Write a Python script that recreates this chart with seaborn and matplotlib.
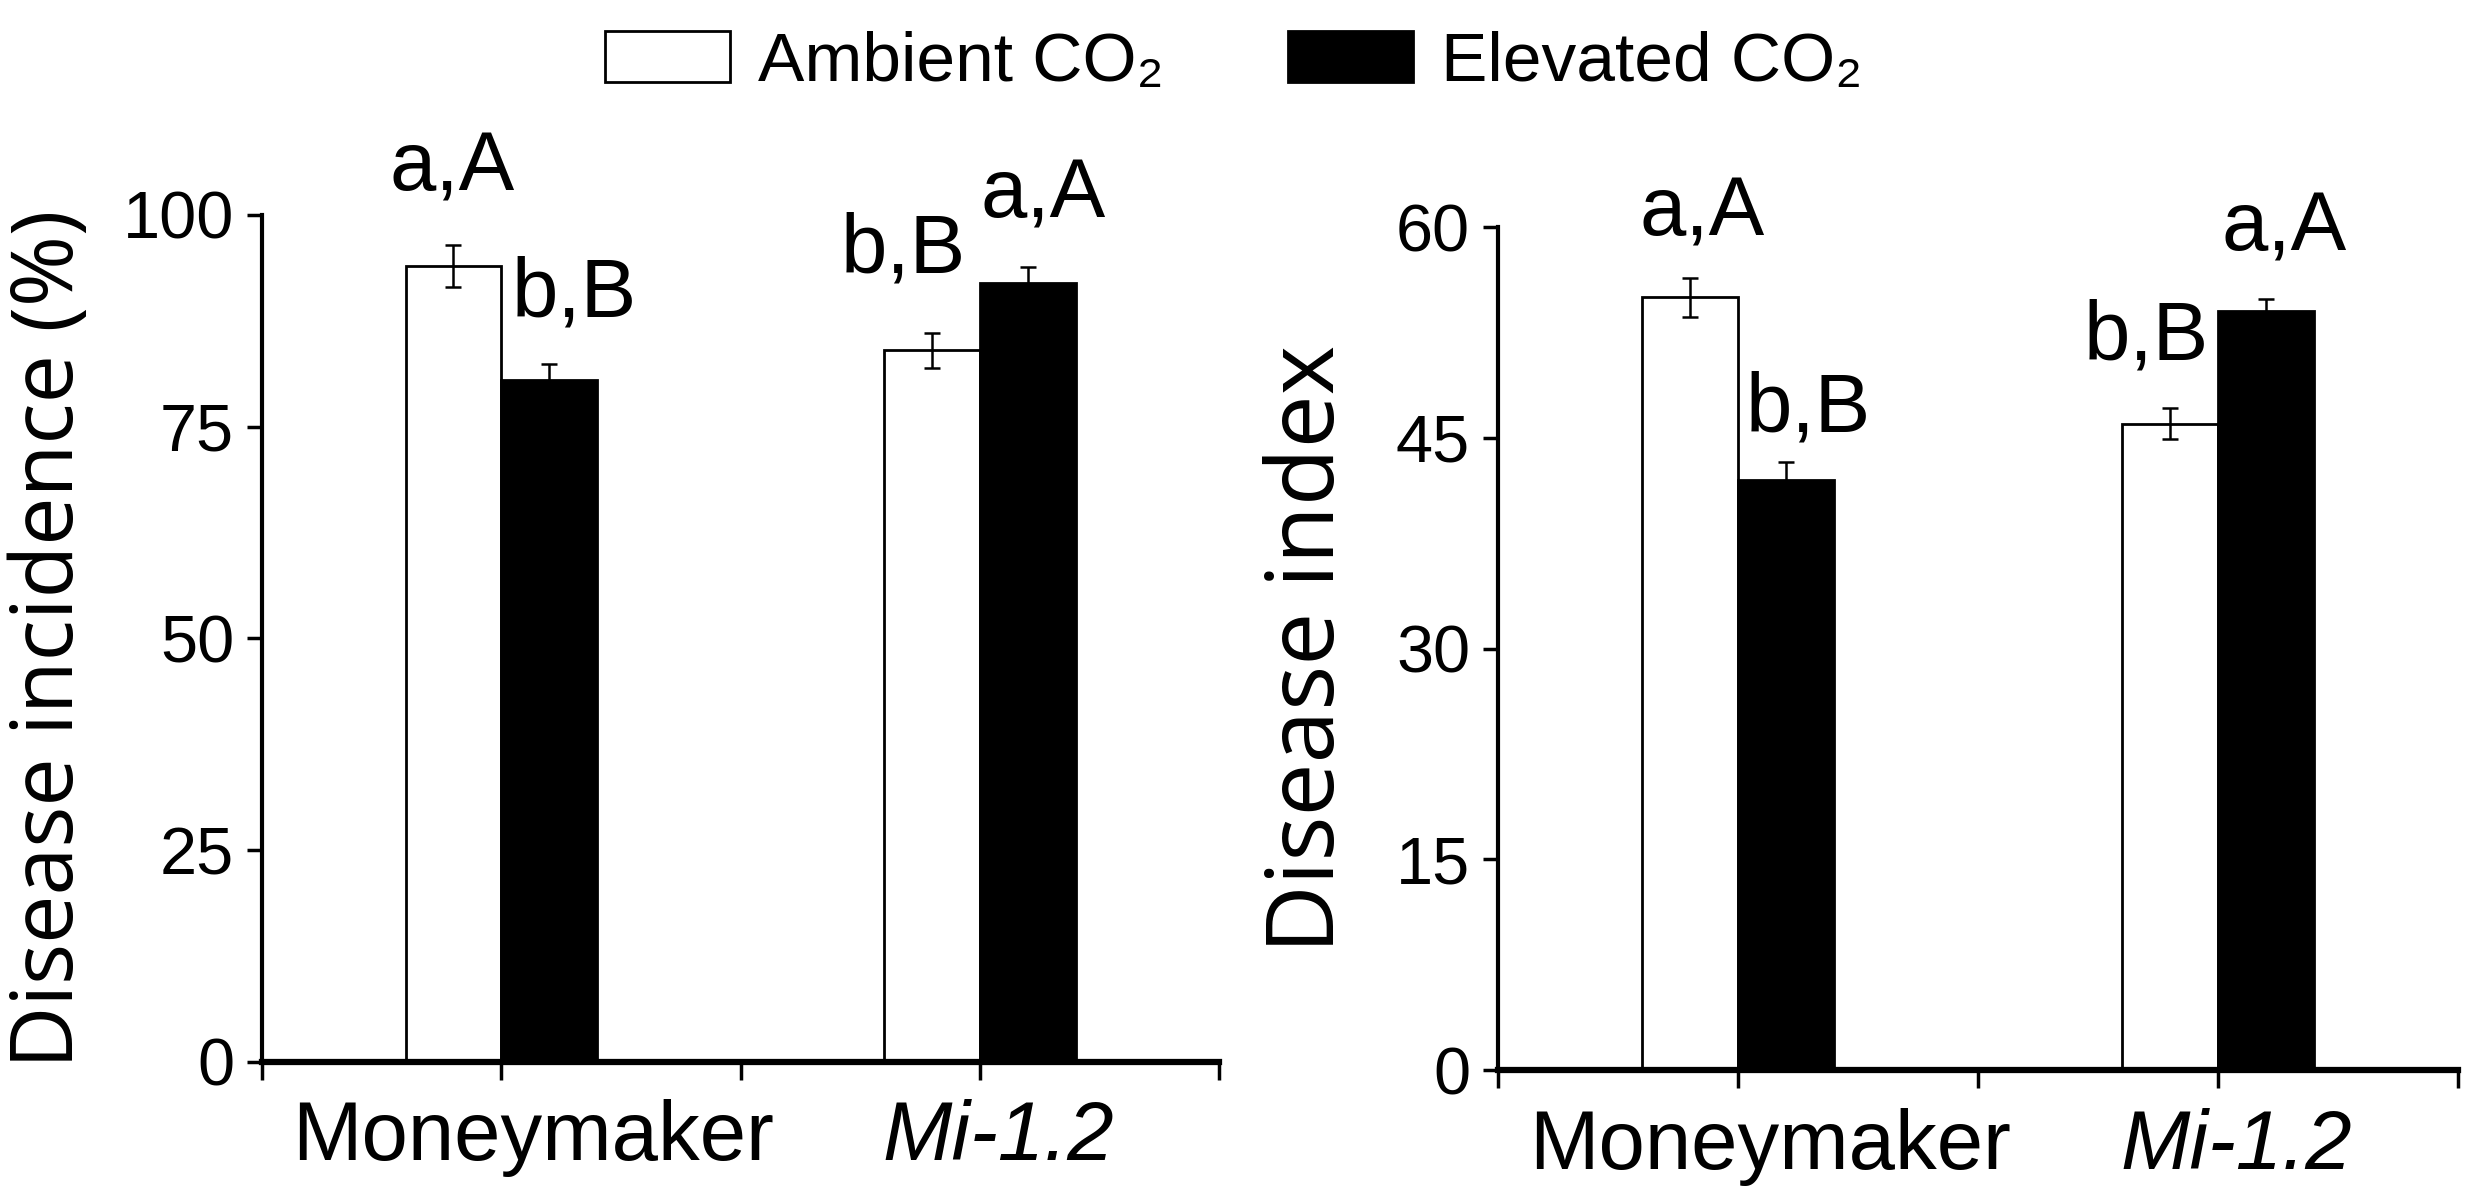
import numpy as np
import pandas as pd
import seaborn as sns
import matplotlib.pyplot as plt
import matplotlib.patches as mpatches

# data
genotypes = ["Moneymaker", "Mi-1.2"]
treatments = ["Ambient CO₂", "Elevated CO₂"]

incidence_ambient = [94.0, 84.0]
incidence_elevated = [80.5, 92.0]
incidence_err_ambient = [2.5, 2.1]
incidence_err_elevated = [1.9, 1.9]
incidence_letters_ambient = ["a,A", "b,B"]
incidence_letters_elevated = ["b,B", "a,A"]

index_ambient = [55.0, 46.0]
index_elevated = [42.0, 54.0]
index_err_ambient = [1.4, 1.1]
index_err_elevated = [1.3, 0.9]
index_letters_ambient = ["a,A", "b,B"]
index_letters_elevated = ["b,B", "a,A"]

incidence_ticks = [0, 25, 50, 75, 100]
index_ticks = [0, 15, 30, 45, 60]

df = pd.DataFrame({
    "genotype": genotypes * 2,
    "treatment": [treatments[0]] * 2 + [treatments[1]] * 2,
    "incidence": incidence_ambient + incidence_elevated,
    "incidence_err": incidence_err_ambient + incidence_err_elevated,
    "incidence_lab": incidence_letters_ambient + incidence_letters_elevated,
    "index": index_ambient + index_elevated,
    "index_err": index_err_ambient + index_err_elevated,
    "index_lab": index_letters_ambient + index_letters_elevated,
})

sns.set_style("ticks")
plt.rcParams['font.family'] = ['Liberation Sans', 'DejaVu Sans']
for k in ["text.color", "axes.labelcolor", "xtick.color", "ytick.color", "axes.edgecolor"]:
    plt.rcParams[k] = "black"

colors = {treatments[0]: "white", treatments[1]: "black"}

fig = plt.figure(figsize=(24.67, 12.02), dpi=100)
ax1 = fig.add_axes([0.1062, 0.1165, 0.388, 0.7047])
ax2 = fig.add_axes([0.6072, 0.1098, 0.389, 0.7013])

# letter offsets in points: (treatment, genotype) -> (dx, dy)
offs_incidence = {(0, 0): (-1, 39), (1, 0): (18, 34), (0, 1): (-21, 43), (1, 1): (11, 35)}
offs_index = {(0, 0): (9, 30), (1, 0): (16, 22), (0, 1): (-17, 35), (1, 1): (13, 35)}
# category names sit a little right of their ticks in the original
name_dx = [23, 13]


def draw_panel(ax, col, ticks, ylabel, label_x, label_size, offs):
    sns.barplot(data=df, x="genotype", y=col, hue="treatment",
                order=genotypes, hue_order=treatments, palette=colors,
                width=0.4, edgecolor="black", linewidth=2,
                errorbar=None, legend=False, ax=ax)
    bar_groups = list(ax.containers)
    for i, cont in enumerate(bar_groups):
        sub = df[df["treatment"] == treatments[i]].set_index("genotype").loc[genotypes]
        for j, bar in enumerate(cont):
            x = bar.get_x() + bar.get_width() / 2
            y = bar.get_height()
            e = sub[col + "_err"].iloc[j]
            ax.errorbar(x, y, yerr=e, color="black", lw=1.8, capsize=6,
                        capthick=1.8, zorder=5)
            ax.annotate(sub[col + "_lab"].iloc[j], (x, y + e),
                        xytext=offs[(i, j)], textcoords="offset points",
                        ha="center", va="baseline", fontsize=60,
                        annotation_clip=False)
    ax.set_ylim(ticks[0], ticks[-1])
    ax.set_yticks(ticks)
    ax.set_xlim(-0.5, 1.5)
    ax.set_xticks([-0.5, 0, 0.5, 1, 1.5])
    ax.set_xticklabels([])
    for k, name in enumerate(genotypes):
        ax.annotate(name, (k, 0), xycoords=ax.get_xaxis_transform(),
                    xytext=(name_dx[k], -27), textcoords="offset points",
                    ha="center", va="top", fontsize=60,
                    style="italic" if name.startswith("Mi") else "normal",
                    annotation_clip=False)
    ax.set_xlabel("")
    ax.set_ylabel(ylabel, fontsize=label_size, family=["Open Sans", "DejaVu Sans"])
    ax.yaxis.set_label_coords(label_x, 0.5)
    sns.despine(ax=ax)
    ax.spines["left"].set_linewidth(3)
    ax.spines["bottom"].set_linewidth(4.5)
    ax.tick_params(axis="y", length=11, width=2.5, pad=9, labelsize=48)
    ax.tick_params(axis="x", length=13, width=2.5)


draw_panel(ax1, "incidence", incidence_ticks, "Disease incidence (%)", -0.175, 62, offs_incidence)
draw_panel(ax2, "index", index_ticks, "Disease index", -0.1475, 68, offs_index)

handles = [mpatches.Patch(facecolor=colors[t], edgecolor="black", linewidth=2)
           for t in treatments]
fig.legend(handles, treatments, loc="center", bbox_to_anchor=(0.5, 0.948),
           ncol=2, frameon=False, fontsize=50, handlelength=1.8,
           handleheight=0.75, handletextpad=0.4, columnspacing=1.8)

fig.savefig("out.png", dpi=100)
